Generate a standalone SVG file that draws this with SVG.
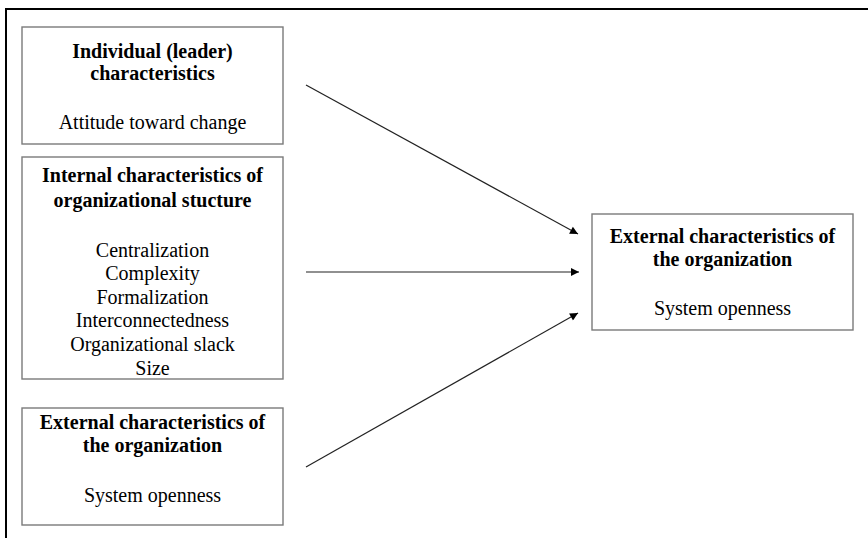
<svg xmlns="http://www.w3.org/2000/svg" width="868" height="538" viewBox="0 0 868 538">
<style>
.box{fill:#fff;stroke:#7a7a7a;stroke-width:1.4}
text{font-family:"Liberation Serif","Times New Roman",serif;font-size:20px;fill:#000;text-anchor:middle}
.b{font-weight:bold}
.c{stroke:#222;stroke-width:1.2;fill:none;marker-end:url(#ah)}
</style>
<defs>
<marker id="ah" viewBox="0 0 10 10" refX="10" refY="5" markerWidth="9" markerHeight="8" markerUnits="userSpaceOnUse" orient="auto">
<path d="M0,0 L10,5 L0,10 z" fill="#000"/>
</marker>
</defs>
<rect width="868" height="538" fill="#fff"/>
<path d="M6,538 V9 H868" fill="none" stroke="#000" stroke-width="2"/>
<g id="n1">
<rect class="box" x="22" y="27" width="261" height="117"/>
<text class="b" x="152.5" y="58">Individual (leader)</text>
<text class="b" x="152.5" y="80">characteristics</text>
<text x="152.5" y="129">Attitude toward change</text>
</g>
<g id="n2">
<rect class="box" x="22" y="157" width="261" height="222"/>
<text class="b" x="152.5" y="182">Internal characteristics of</text>
<text class="b" x="152.5" y="207">organizational stucture</text>
<text x="152.5" y="257">Centralization</text>
<text x="152.5" y="280">Complexity</text>
<text x="152.5" y="304">Formalization</text>
<text x="152.5" y="327">Interconnectedness</text>
<text x="152.5" y="351">Organizational slack</text>
<text x="152.5" y="375">Size</text>
</g>
<g id="n3">
<rect class="box" x="22" y="408" width="261" height="117"/>
<text class="b" x="152.5" y="429">External characteristics of</text>
<text class="b" x="152.5" y="452">the organization</text>
<text x="152.5" y="502">System openness</text>
</g>
<g id="n4">
<rect class="box" x="592" y="214" width="261" height="116"/>
<text class="b" x="722.5" y="243">External characteristics of</text>
<text class="b" x="722.5" y="266">the organization</text>
<text x="722.5" y="315">System openness</text>
</g>
<g id="connectors">
<line class="c" x1="306" y1="85" x2="578" y2="234"/>
<line class="c" x1="306" y1="272" x2="579" y2="272"/>
<line class="c" x1="306" y1="467" x2="578" y2="313"/>
</g>
</svg>
